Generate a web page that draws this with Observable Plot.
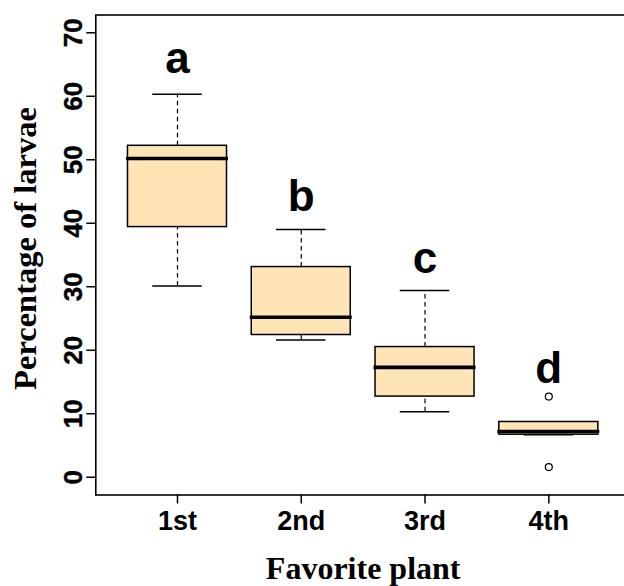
<!DOCTYPE html>
<html><head><meta charset="utf-8">
<script src="https://cdn.jsdelivr.net/npm/d3@7"></script>
<script src="https://cdn.jsdelivr.net/npm/@observablehq/plot@0.6"></script>
<style>
html,body{margin:0;padding:0;background:#fff;overflow:hidden;width:624px;height:586px}
#chart svg{max-width:none !important;display:block}
</style></head><body><div id="chart"></div>
<script>
const categories = ["1st", "2nd", "3rd", "4th"];
const whiskerLow = [30.1, 21.6, 10.3, 6.7];
const q1 = [39.4, 22.4, 12.7, 6.7];
const medians = [50.2, 25.2, 17.3, 7.2];
const q3 = [52.2, 33.1, 20.5, 8.7];
const whiskerHigh = [60.3, 39.0, 29.4, 8.7];
const outlierGroup = ["4th", "4th"];
const outlierValues = [12.7, 1.6];
const letters = ["a", "b", "c", "d"];
const letterY = [63.6, 42.0, 32.1, 14.8];
const yTicks = [0, 10, 20, 30, 40, 50, 60, 70];

const boxes = categories.map((c, i) => ({
  pos: i + 1, low: whiskerLow[i], q1: q1[i], med: medians[i], q3: q3[i],
  high: whiskerHigh[i], letter: letters[i], ly: letterY[i]
}));
const outliers = outlierValues.map((v, i) => ({pos: categories.indexOf(outlierGroup[i]) + 1, value: v}));
const boxHalf = 0.4, capHalf = 0.2;
const serif = "'Liberation Serif', 'DejaVu Serif', serif";

const chart = Plot.plot({
  width: 630, height: 586,
  marginLeft: 95.3, marginRight: 0, marginTop: 14.5, marginBottom: 91.5,
  x: {domain: [0.34, 4.66], axis: null},
  y: {domain: [-2.8, 72.8], axis: null},
  style: {fontFamily: "'Liberation Sans', Arial, sans-serif", background: "white", color: "black"},
  marks: [
    Plot.ruleX(boxes, {x: "pos", y1: "q3", y2: "high", stroke: "black", strokeWidth: 1.2, strokeDasharray: "4.5,3.5"}),
    Plot.ruleX(boxes, {x: "pos", y1: "low", y2: "q1", stroke: "black", strokeWidth: 1.2, strokeDasharray: "4.5,3.5"}),
    Plot.ruleY(boxes, {y: "high", x1: d => d.pos - capHalf, x2: d => d.pos + capHalf, stroke: "black", strokeWidth: 1.5}),
    Plot.ruleY(boxes, {y: "low", x1: d => d.pos - capHalf, x2: d => d.pos + capHalf, stroke: "black", strokeWidth: 1.5}),
    Plot.rect(boxes, {x1: d => d.pos - boxHalf, x2: d => d.pos + boxHalf, y1: "q1", y2: "q3", fill: "#FFE4B5", stroke: "black", strokeWidth: 1.5}),
    Plot.ruleY(boxes, {y: "med", x1: d => d.pos - boxHalf - 0.012, x2: d => d.pos + boxHalf + 0.012, stroke: "black", strokeWidth: 3.6}),
    Plot.dot(outliers, {x: "pos", y: "value", r: 3.5, stroke: "black", fill: "white", strokeWidth: 1.2}),
    Plot.text(boxes, {x: "pos", y: "ly", text: "letter", fontSize: 44, fontWeight: "bold", lineAnchor: "bottom", fill: "black"}),
    Plot.frame({stroke: "black", strokeWidth: 1.6}),
    Plot.axisY({ticks: yTicks, tickSize: 9, tickFormat: () => "", strokeWidth: 1.5, label: null}),
    Plot.text(yTicks, {y: d => d, text: d => String(d), frameAnchor: "left", textAnchor: "middle", dx: -13.6, rotate: -90, lineAnchor: "bottom", fontSize: 26, fontWeight: "bold", fill: "black", stroke: "black", strokeWidth: 0.4}),
    Plot.axisX({ticks: [1, 2, 3, 4], tickFormat: d => categories[d - 1], tickSize: 9, tickPadding: 6.6, fontSize: 27, fontWeight: "bold", label: null, strokeWidth: 1.5}),
    Plot.text(["Favorite plant"], {frameAnchor: "bottom", textAnchor: "middle", dy: 84, lineAnchor: "bottom", fontFamily: serif, fontWeight: "bold", fontSize: 32, fill: "black"}),
    Plot.text(["Percentage of larvae"], {frameAnchor: "left", textAnchor: "middle", dx: -59.8, dy: -6.5, rotate: -90, lineAnchor: "bottom", fontFamily: serif, fontWeight: "bold", fontSize: 32.5, fill: "black"})
  ]
});
document.getElementById("chart").appendChild(chart);
</script>
</body></html>
